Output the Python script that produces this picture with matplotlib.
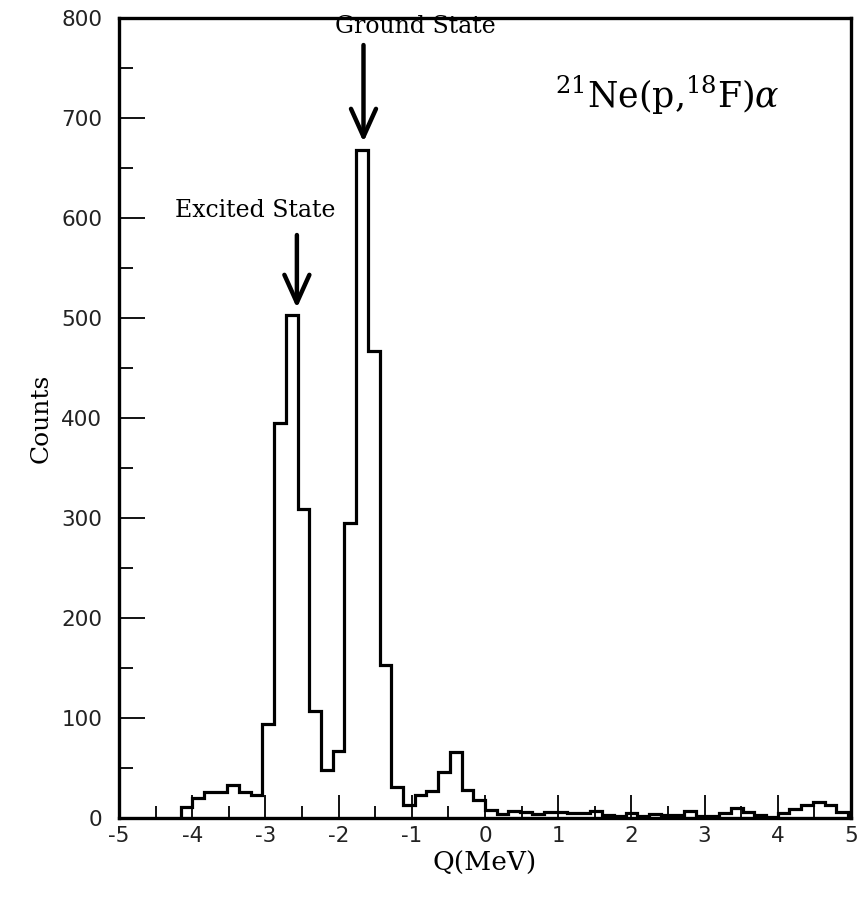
import numpy as np
import matplotlib
matplotlib.use("Agg")
import matplotlib.pyplot as plt

# Q-value histogram of 21Ne(p,18F)alpha, bin width 0.16 MeV
bin_width = 0.16
first_edge = -4.16
counts = [11, 20, 26, 26, 33, 26, 23, 94, 395, 503, 309, 107, 48, 67, 295,
          668, 467, 153, 31, 13, 23, 27, 46, 66, 28, 18,
          8, 4, 7, 6, 4, 6, 6, 5, 5, 7, 3, 2, 5, 2, 4, 3, 3, 7, 2, 2,
          5, 10, 6, 3, 1, 5, 9, 13, 16, 13, 6]
edges = first_edge + bin_width * np.arange(len(counts) + 1)

x_ticks = [-5, -4, -3, -2, -1, 0, 1, 2, 3, 4, 5]
y_ticks = [0, 100, 200, 300, 400, 500, 600, 700, 800]

# annotated states: (label, arrow x, arrow tip y, arrow tail y, text x, text baseline y)
states = [
    ("Ground State", -1.66, 676, 773, -0.95, 785),
    ("Excited State", -2.57, 510, 583, -3.14, 601),
]

plt.rcParams["axes.unicode_minus"] = False
plt.rcParams["mathtext.fontset"] = "dejavuserif"

fig = plt.figure(figsize=(8.6, 9.06), dpi=100)
ax = fig.add_axes([0.1384, 0.0971, 0.9895 - 0.1384, 0.9801 - 0.0971])

ax.stairs(counts, edges, baseline=0, color="black", linewidth=2.3)

ax.set_xlim(-5, 5)
ax.set_ylim(0, 800)
ax.set_xticks(x_ticks)
ax.set_yticks(y_ticks)
ax.set_xticks(np.arange(-4.5, 5, 1.0), minor=True)
ax.set_yticks(np.arange(50, 800, 100), minor=True)

for s in ax.spines.values():
    s.set_linewidth(2.4)

ax.tick_params(axis="both", which="both", direction="in", width=1.3,
               colors="black", labelsize=15.5)
ax.tick_params(axis="y", which="major", length=19, pad=12)
ax.tick_params(axis="y", which="minor", length=10)
ax.tick_params(axis="x", which="major", length=16.5, pad=6)
ax.tick_params(axis="x", which="minor", length=8.5)
for lbl in ax.get_xticklabels() + ax.get_yticklabels():
    lbl.set_fontfamily("DejaVu Sans")
    lbl.set_color("#222222")

ax.set_xlabel("Q(MeV)", fontsize=19, family="DejaVu Serif", labelpad=3)
ax.set_ylabel("Counts", fontsize=18, family="DejaVu Serif", labelpad=6)

for label, ax_x, tip_y, tail_y, tx, ty in states:
    ax.annotate("", xy=(ax_x, tip_y), xytext=(ax_x, tail_y),
                arrowprops=dict(arrowstyle="->,head_length=2.0,head_width=0.9",
                                color="black", linewidth=3.2,
                                shrinkA=0, shrinkB=0))
    ax.text(tx, ty, label, ha="center", va="baseline", fontsize=17,
            family="DejaVu Serif")

ax.text(0.95, 710, r"$^{21}$Ne(p,$^{18}$F)$\alpha$", ha="left",
        va="baseline", fontsize=25, family="DejaVu Serif")

fig.savefig("out.png", dpi=100)
